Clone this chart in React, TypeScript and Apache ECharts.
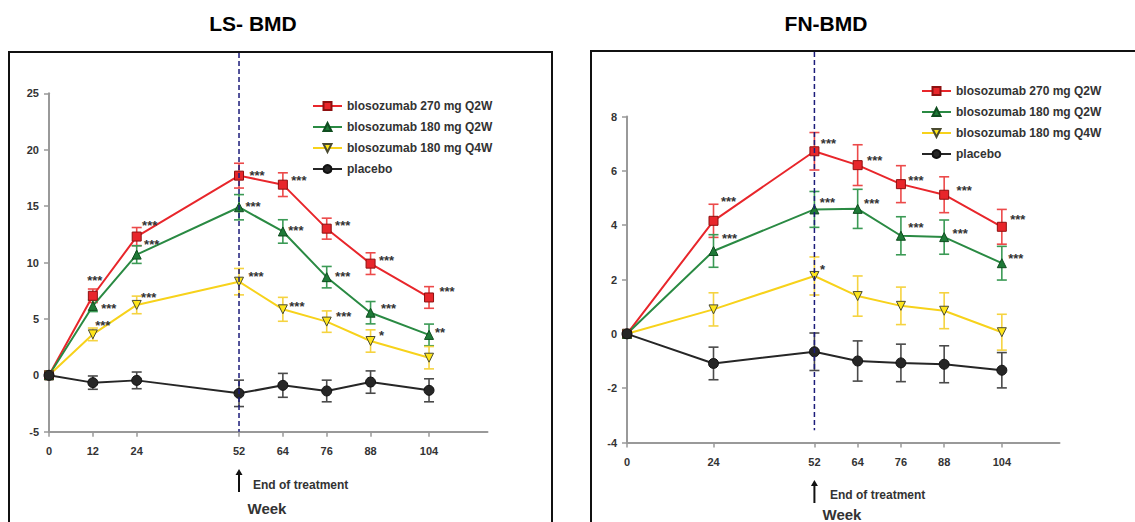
import { useEffect, useRef } from "react";
import * as echarts from "echarts";

const FONT = 'Arial, "Liberation Sans", Helvetica, sans-serif';

const seriesNames = [
  "blosozumab 270 mg Q2W",
  "blosozumab 180 mg Q2W",
  "blosozumab 180 mg Q4W",
  "placebo",
];

// ---------- LS-BMD ----------
const lsWeeks = [0, 12, 24, 52, 64, 76, 88, 104];
const ls270Mean = [0, 7.05, 12.3, 17.7, 16.9, 13.0, 9.9, 6.9];
const ls270Err = [0, 0.6, 0.8, 1.1, 1.05, 0.93, 0.96, 0.96];
const ls180Mean = [0, 6.15, 10.7, 14.9, 12.75, 8.7, 5.55, 3.58];
const ls180Err = [0, 0.5, 0.78, 1.12, 1.04, 0.95, 0.99, 0.96];
const ls180q4Mean = [0, 3.63, 6.24, 8.3, 5.85, 4.76, 3.04, 1.56];
const ls180q4Err = [0, 0.56, 0.78, 1.17, 1.06, 0.95, 0.99, 0.99];
const lsPlaceboMean = [0, -0.65, -0.45, -1.6, -0.89, -1.39, -0.6, -1.33];
const lsPlaceboErr = [0, 0.59, 0.74, 1.17, 1.06, 0.96, 0.99, 1.02];
const ls270Sig = ["", "***", "***", "***", "***", "***", "***", "***"];
const ls180Sig = ["", "***", "***", "***", "***", "***", "***", "**"];
const ls180q4Sig = ["", "***", "***", "***", "***", "***", "*", ""];
const lsPlaceboSig = ["", "", "", "", "", "", "", ""];

// ---------- FN-BMD ----------
const fnWeeks = [0, 24, 52, 64, 76, 88, 104];
const fn270Mean = [0, 4.16, 6.72, 6.21, 5.51, 5.12, 3.94];
const fn270Err = [0, 0.61, 0.69, 0.75, 0.68, 0.66, 0.64];
const fn180Mean = [0, 3.05, 4.58, 4.6, 3.61, 3.56, 2.6];
const fn180Err = [0, 0.6, 0.66, 0.72, 0.7, 0.63, 0.62];
const fn180q4Mean = [0, 0.9, 2.13, 1.39, 1.03, 0.85, 0.06];
const fn180q4Err = [0, 0.61, 0.7, 0.74, 0.69, 0.66, 0.66];
const fnPlaceboMean = [0, -1.09, -0.66, -1.0, -1.07, -1.12, -1.34];
const fnPlaceboErr = [0, 0.6, 0.69, 0.74, 0.69, 0.68, 0.65];
const fn270Sig = ["", "***", "***", "***", "***", "***", "***"];
const fn180Sig = ["", "***", "***", "***", "***", "***", "***"];
const fn180q4Sig = ["", "", "*", "", "", "", ""];
const fnPlaceboSig = ["", "", "", "", "", "", ""];

const lsTicks = [0, 12, 24, 52, 64, 76, 88, 104];
const fnTicks = [0, 24, 52, 64, 76, 88, 104];
const endOfTreatmentWeek = 52;

// ---------- label placement (pixels, relative to the point) ----------
const lsSigOffsets: (number[] | null)[][] = [
  [null, [2, -18], [13, -14], [18, -3], [16, -7], [16, -6], [16, -6], [18, -9]],
  [null, [16, 0], [15, -13], [14, -4], [13, -4], [16, -4], [18, -7], [11, -5]],
  [null, [10, -12], [12, -10], [17, -8], [14, -6], [17, -8], [11, -9], null],
  [null, null, null, null, null, null, null, null],
];
const fnSigOffsets: (number[] | null)[][] = [
  [null, [15, -22], [14, -11], [17, -8], [15, -7], [20, -7], [16, -10]],
  [null, [16, -15], [13, -10], [14, -8], [15, -11], [16, -7], [14, -8]],
  [null, null, [8, -9], null, null, null, null],
  [null, null, null, null, null, null, null],
];

const lineColors = ["#e8262b", "#2a8a43", "#f7d21b", "#262626"];
const errColors = ["#ec4a4a", "#3b9a55", "#f5d340", "#4a4a4a"];
const fillColors = ["#e8262b", "#1e7a37", "#ffe61a", "#262626"];
const borderColors = ["#8e1010", "#0f4d1f", "#4a4a30", "#111111"];
const symbols = ["rect", "triangle", "triangle", "circle"];
const symbolRotates = [0, 0, 180, 0];

function panelSeries(
  gi: number,
  weeks: number[],
  means: number[][],
  errs: number[][],
  sigs: string[][],
  offsets: (number[] | null)[][]
) {
  const out: any[] = [];
  means.forEach((m, si) => {
    const color = errColors[si];
    out.push({
      type: "custom",
      name: "err-" + gi + "-" + si,
      xAxisIndex: gi,
      yAxisIndex: gi,
      z: 1,
      silent: true,
      encode: { x: 0, y: [1, 2] },
      data: weeks
        .map((w, i) => [w, m[i] - errs[si][i], m[i] + errs[si][i]])
        .filter((d) => d[2] - d[1] > 0),
      renderItem: (_p: any, api: any) => {
        const x = api.value(0);
        const top = api.coord([x, api.value(2)]);
        const bot = api.coord([x, api.value(1)]);
        const hw = 5;
        const style = { stroke: color, lineWidth: 1.6 };
        return {
          type: "group",
          children: [
            { type: "line", shape: { x1: top[0], y1: top[1], x2: bot[0], y2: bot[1] }, style },
            { type: "line", shape: { x1: top[0] - hw, y1: top[1], x2: top[0] + hw, y2: top[1] }, style },
            { type: "line", shape: { x1: bot[0] - hw, y1: bot[1], x2: bot[0] + hw, y2: bot[1] }, style },
          ],
        };
      },
    });
  });
  means.forEach((m, si) => {
    out.push({
      type: "line",
      name: seriesNames[si],
      xAxisIndex: gi,
      yAxisIndex: gi,
      z: 3,
      symbol: symbols[si],
      symbolSize: si === 3 ? 10 : 9,
      symbolRotate: symbolRotates[si],
      showAllSymbol: true,
      lineStyle: { color: lineColors[si], width: 2 },
      itemStyle: { color: fillColors[si], borderColor: borderColors[si], borderWidth: 1 },
      label: {
        show: false,
        position: "inside",
        fontFamily: FONT,
        fontSize: 13,
        fontWeight: "bold",
        color: "#333",
      },
      data: weeks.map((w, i) => {
        const sig = sigs[si][i];
        const off = offsets[si][i];
        if (!sig || !off) return [w, m[i]];
        return {
          value: [w, m[i]],
          label: { show: true, formatter: sig, offset: [off[0], off[1] + 3] },
        };
      }),
    });
  });
  return out;
}

const axisLineStyle = { color: "#999", width: 2 };
const axisLabelStyle = { fontFamily: FONT, fontSize: 11, fontWeight: "bold" as const, color: "#333" };

function xAxisFor(gi: number, ticks: number[]) {
  return {
    type: "value",
    gridIndex: gi,
    min: 0,
    max: 120,
    axisLine: { show: true, onZero: false, lineStyle: axisLineStyle },
    axisTick: { show: true, length: 5, lineStyle: { color: "#999", width: 1.5 }, customValues: ticks },
    axisLabel: { ...axisLabelStyle, margin: 14, customValues: ticks },
    splitLine: { show: false },
  };
}

function yAxisFor(gi: number, min: number, max: number, interval: number) {
  return {
    type: "value",
    gridIndex: gi,
    min,
    max,
    interval,
    axisLine: { show: true, onZero: false, lineStyle: axisLineStyle },
    axisTick: { show: true, length: 5, lineStyle: { color: "#999", width: 1.5 } },
    axisLabel: { ...axisLabelStyle, margin: 10 },
    splitLine: { show: false },
  };
}

const legendBase = {
  orient: "vertical",
  data: seriesNames,
  itemWidth: 29,
  itemHeight: 10,
  itemGap: 9,
  selectedMode: false,
  textStyle: { fontFamily: FONT, fontSize: 12, fontWeight: "bold", color: "#333" },
};

export default function App() {
  const ref = useRef<HTMLDivElement>(null);
  useEffect(() => {
    const chart = echarts.init(ref.current!, null, { renderer: "svg" });
    chart.setOption({
      animation: false,
      backgroundColor: "#fff",
      grid: [
        { left: 49, top: 93.3, width: 438.5, height: 338.4 },
        { left: 627, top: 116.5, width: 432.5, height: 326 },
      ],
      xAxis: [xAxisFor(0, lsTicks), xAxisFor(1, fnTicks)],
      yAxis: [yAxisFor(0, -5, 25, 5), yAxisFor(1, -4, 8, 2)],
      legend: [
        { ...legendBase, left: 307, top: 95 },
        { ...legendBase, left: 916, top: 80 },
      ],
      series: [
        ...panelSeries(
          0,
          lsWeeks,
          [ls270Mean, ls180Mean, ls180q4Mean, lsPlaceboMean],
          [ls270Err, ls180Err, ls180q4Err, lsPlaceboErr],
          [ls270Sig, ls180Sig, ls180q4Sig, lsPlaceboSig],
          lsSigOffsets
        ),
        ...panelSeries(
          1,
          fnWeeks,
          [fn270Mean, fn180Mean, fn180q4Mean, fnPlaceboMean],
          [fn270Err, fn180Err, fn180q4Err, fnPlaceboErr],
          [fn270Sig, fn180Sig, fn180q4Sig, fnPlaceboSig],
          fnSigOffsets
        ),
      ],
    });

    const px = (gi: number, v: number[]) =>
      chart.convertToPixel({ xAxisIndex: gi, yAxisIndex: gi }, v) as number[];
    const lsEnd = px(0, [endOfTreatmentWeek, -5]);
    const fnEnd = px(1, [endOfTreatmentWeek, -3.55]);

    const arrow = (x: number, yTop: number, yBot: number) => [
      { type: "line", shape: { x1: x, y1: yTop + 5, x2: x, y2: yBot }, style: { stroke: "#111", lineWidth: 2 } },
      {
        type: "polygon",
        shape: { points: [[x - 3.5, yTop + 6], [x + 3.5, yTop + 6], [x, yTop]] },
        style: { fill: "#111" },
      },
    ];

    chart.setOption({
      graphic: [
        { type: "rect", shape: { x: 9, y: 52, width: 543, height: 500 }, style: { fill: "none", stroke: "#111", lineWidth: 2 }, z: 0 },
        { type: "rect", shape: { x: 591, y: 51, width: 600, height: 500 }, style: { fill: "none", stroke: "#111", lineWidth: 2 }, z: 0 },
        { type: "text", x: 253, y: 23, style: { text: "LS- BMD", font: `bold 21px ${FONT}`, fill: "#000", textAlign: "center", textVerticalAlign: "middle" } },
        { type: "text", x: 826, y: 23, style: { text: "FN-BMD", font: `bold 21px ${FONT}`, fill: "#000", textAlign: "center", textVerticalAlign: "middle" } },
        {
          type: "line",
          shape: { x1: lsEnd[0], y1: 53, x2: lsEnd[0], y2: lsEnd[1] },
          style: { stroke: "#1c1c7a", lineWidth: 1.5, lineDash: [5, 3] },
          z: 10,
        },
        {
          type: "line",
          shape: { x1: fnEnd[0], y1: 52, x2: fnEnd[0], y2: fnEnd[1] },
          style: { stroke: "#1c1c7a", lineWidth: 1.5, lineDash: [5, 3] },
          z: 10,
        },
        ...arrow(lsEnd[0], 469, 492),
        ...arrow(fnEnd[0], 480, 503),
        { type: "text", x: 253, y: 485, style: { text: "End of treatment", font: `bold 12px ${FONT}`, fill: "#333", textAlign: "left", textVerticalAlign: "middle" } },
        { type: "text", x: 830, y: 495, style: { text: "End of treatment", font: `bold 12px ${FONT}`, fill: "#333", textAlign: "left", textVerticalAlign: "middle" } },
        { type: "text", x: 267, y: 508, style: { text: "Week", font: `bold 15px ${FONT}`, fill: "#333", textAlign: "center", textVerticalAlign: "middle" } },
        { type: "text", x: 842, y: 514, style: { text: "Week", font: `bold 15px ${FONT}`, fill: "#333", textAlign: "center", textVerticalAlign: "middle" } },
      ],
    });
    return () => chart.dispose();
  }, []);
  return (
    <div
      ref={ref}
      style={{ position: "fixed", left: 0, top: 0, width: 1135, height: 522, background: "#fff" }}
    />
  );
}
